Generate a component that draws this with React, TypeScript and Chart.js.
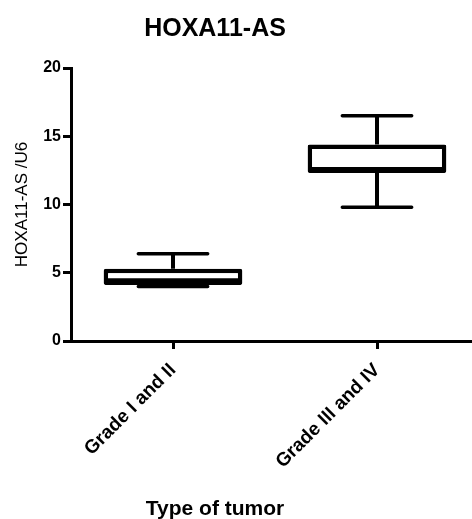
import React, { useEffect, useRef } from 'react';
import { Chart, registerables } from 'chart.js';

Chart.register(...registerables);

const categories = ['Grade I and II', 'Grade III and IV'];
const minValues = [4.0, 9.8];
const q1Values = [4.1, 12.3];
const medianValues = [4.45, 12.6];
const q3Values = [5.3, 14.4];
const maxValues = [6.4, 16.5];
const yTicks = [0, 5, 10, 15, 20];
const chartTitle = 'HOXA11-AS';
const yTitle = 'HOXA11-AS /U6';
const xTitle = 'Type of tumor';

const FAMILY = '"Liberation Sans", Arial, sans-serif';

const boxWhiskerPlugin = {
  id: 'boxWhisker',
  afterDatasetsDraw(chart: any) {
    const meta = chart.getDatasetMeta(0);
    const y = chart.scales.y;
    const ctx = chart.ctx;
    ctx.save();
    ctx.strokeStyle = '#000';
    meta.data.forEach((bar: any, i: number) => {
      const { x, width } = bar.getProps(['x', 'width'], true);
      const half = width / 2;
      const pMin = y.getPixelForValue(minValues[i]);
      const pQ1 = y.getPixelForValue(q1Values[i]);
      const pMed = y.getPixelForValue(medianValues[i]);
      const pQ3 = y.getPixelForValue(q3Values[i]);
      const pMax = y.getPixelForValue(maxValues[i]);
      ctx.lineWidth = 4;
      ctx.lineCap = 'butt';
      ctx.beginPath();
      ctx.moveTo(x, pQ3);
      ctx.lineTo(x, pMax);
      ctx.moveTo(x, pQ1);
      ctx.lineTo(x, pMin);
      ctx.stroke();
      ctx.lineCap = 'round';
      ctx.lineWidth = 3.5;
      ctx.beginPath();
      ctx.moveTo(x - half / 2, pMax);
      ctx.lineTo(x + half / 2, pMax);
      ctx.moveTo(x - half / 2, pMin);
      ctx.lineTo(x + half / 2, pMin);
      ctx.stroke();
      ctx.lineCap = 'butt';
      ctx.lineWidth = 4;
      ctx.beginPath();
      ctx.moveTo(x - half + 2, pMed);
      ctx.lineTo(x + half - 2, pMed);
      ctx.stroke();
    });
    ctx.restore();
  },
};

const textPlugin = {
  id: 'titles',
  afterDraw(chart: any) {
    const ctx = chart.ctx;
    const left = chart.chartArea.left;
    ctx.save();
    ctx.fillStyle = '#000';
    ctx.textAlign = 'center';
    ctx.textBaseline = 'alphabetic';
    ctx.font = `bold 25px ${FAMILY}`;
    ctx.fillText(chartTitle, left + 144, 36);
    ctx.font = `bold 21px ${FAMILY}`;
    ctx.fillText(xTitle, left + 144, 515);
    ctx.restore();
  },
};

export default function App() {
  const ref = useRef<HTMLCanvasElement | null>(null);
  useEffect(() => {
    if (!ref.current) return;
    const chart = new Chart(ref.current, {
      type: 'bar',
      data: {
        labels: categories,
        datasets: [
          {
            data: q1Values.map((q, i) => [q, q3Values[i]]) as any,
            backgroundColor: '#fff',
            borderColor: '#000',
            borderWidth: 4.5,
            borderSkipped: false,
            borderRadius: 2,
            barPercentage: 0.68,
            categoryPercentage: 1,
          },
        ],
      },
      options: {
        responsive: false,
        animation: false,
        layout: { padding: { top: 68, right: 1, left: 0, bottom: 0 } },
        plugins: {
          legend: { display: false },
          tooltip: { enabled: false },
          title: { display: false },
        },
        scales: {
          x: {
            type: 'category',
            offset: true,
            afterFit: (s: any) => {
              s.height = 178;
            },
            ticks: {
              color: '#000',
              font: { family: FAMILY, size: 19, weight: 'bold' },
              minRotation: 45,
              maxRotation: 45,
              padding: 10,
              autoSkip: false,
            },
            grid: {
              display: true,
              offset: false,
              drawOnChartArea: false,
              drawTicks: true,
              tickLength: 8,
              tickWidth: 3,
              tickColor: '#000',
            },
            border: { display: true, color: '#000', width: 3 },
          },
          y: {
            type: 'linear',
            min: 0,
            max: 20,
            afterFit: (s: any) => {
              s.width = 71;
            },
            afterBuildTicks: (s: any) => {
              s.ticks = yTicks.map((v) => ({ value: v }));
            },
            ticks: {
              color: '#000',
              font: { family: FAMILY, size: 16, weight: 'bold' },
              padding: 2,
            },
            grid: {
              display: true,
              drawOnChartArea: false,
              drawTicks: true,
              tickLength: 8,
              tickWidth: 3,
              tickColor: '#000',
            },
            border: { display: true, color: '#000', width: 3 },
            title: {
              display: true,
              text: yTitle,
              color: '#000',
              font: { family: FAMILY, size: 17 },
              padding: { top: 12, bottom: 0 },
            },
          },
        },
      },
      plugins: [boxWhiskerPlugin, textPlugin],
    });
    return () => chart.destroy();
  }, []);
  return (
    <div
      style={{
        position: 'fixed',
        left: 0,
        top: 0,
        width: 472,
        height: 519,
        overflow: 'hidden',
        background: '#fff',
      }}
    >
      <canvas ref={ref} width={480} height={519} style={{ display: 'block', width: 480, height: 519 }} />
    </div>
  );
}
